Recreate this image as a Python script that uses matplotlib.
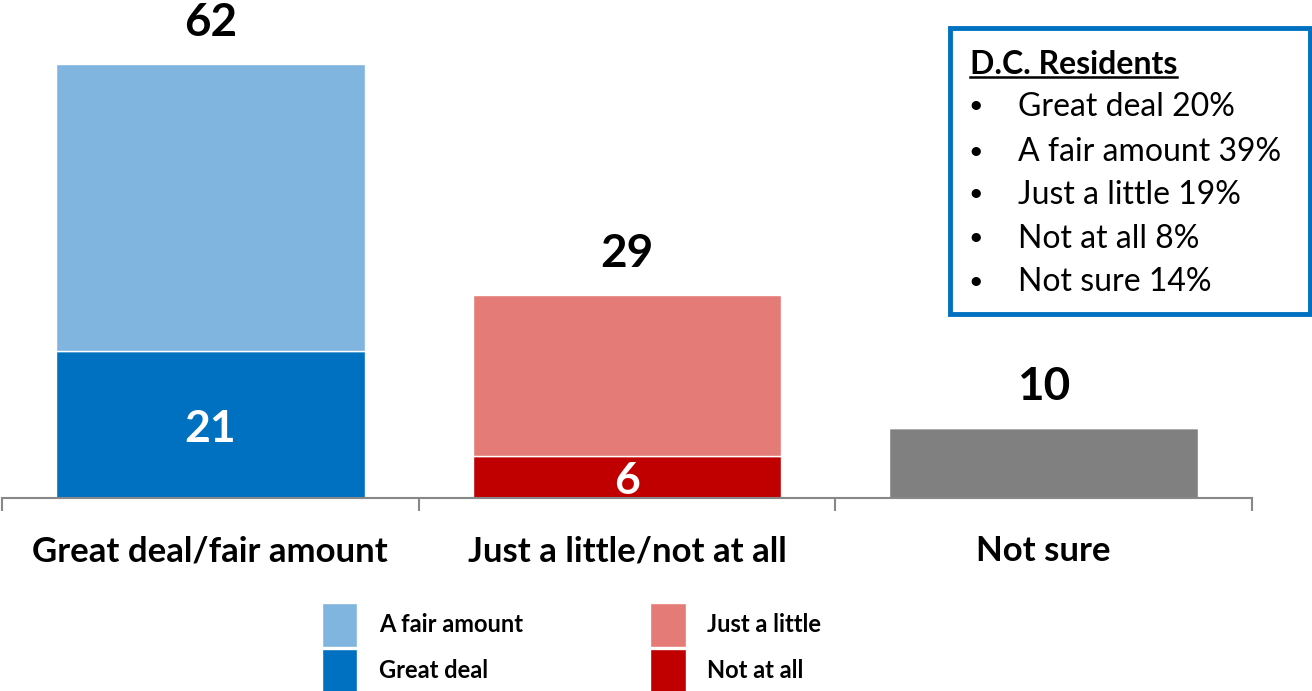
import matplotlib
matplotlib.use("Agg")
from matplotlib import pyplot as plt
from matplotlib.patches import Rectangle, Patch
from matplotlib.lines import Line2D
import numpy as np

plt.rcParams['font.family'] = ['Lato', 'DejaVu Sans']

# -------- data ----------#
categories = ["Great deal/fair amount", "Just a little/not at all", "Not sure"]
bottom_vals = [21, 6, 10]          # Great deal / Not at all / Not sure
top_vals = [41, 23, 0]             # A fair amount / Just a little
totals = [62, 29, 10]
inner_labels = ["21", "6", ""]

bottom_colors = ["#0070C0", "#C00000", "#808080"]
top_colors = ["#7FB5DE", "#E57B77", "#808080"]

legend_labels = ["A fair amount", "Great deal", "Just a little", "Not at all"]
legend_colors = ["#7FB5DE", "#0070C0", "#E57B77", "#C00000"]

box_title = "D.C. Residents"
box_items = ["Great deal 20%", "A fair amount 39%", "Just a little 19%",
             "Not at all 8%", "Not sure 14%"]
# -------- data end ----------#

W, H = 1312, 691
fig = plt.figure(figsize=(W / 100, H / 100), dpi=100)
ax = fig.add_axes([2 / W, 1 - 498 / H, 1250 / W, 498 / H])

x = np.arange(len(categories))
bw = 0.74
ax.bar(x, bottom_vals, bw, color=bottom_colors, edgecolor="white", linewidth=1)
ax.bar(x, top_vals, bw, bottom=bottom_vals, color=top_colors,
       edgecolor="white", linewidth=1)

ax.set_xlim(-0.5, 2.5)
ax.set_ylim(0, 71.1)

for xi, t in zip(x, totals):
    ax.text(xi, t + 5.8, str(t), ha="center", va="center",
            fontsize=33, fontweight="bold", color="black")
for xi, b, lab in zip(x, bottom_vals, inner_labels):
    if lab:
        ax.text(xi, b / 2 - 0.6, lab, ha="center",
                va="center", fontsize=32, fontweight="bold", color="white")

# axis styling
for s in ["top", "right", "left"]:
    ax.spines[s].set_visible(False)
ax.spines["bottom"].set_color("#888888")
ax.spines["bottom"].set_linewidth(1.5)
ax.set_yticks([])
ax.set_xticks([-0.5, 0.5, 1.5, 2.5])
ax.set_xticklabels([])
ax.tick_params(axis="x", length=9, width=1.5, color="#888888", direction="out")
for xi, c in zip(x, categories):
    ax.text(xi, -7.6, c, ha="center", va="center", fontsize=25,
            fontweight="bold", color="black", clip_on=False)

# legend
handles = [Patch(facecolor=c, edgecolor="white", linewidth=1) for c in legend_colors]
leg = fig.legend(handles, legend_labels, ncol=2, loc="lower left",
                 bbox_to_anchor=(322 / W, -1 / H), frameon=False,
                 prop={"size": 17, "weight": "bold"},
                 handlelength=1.5, handleheight=2.43, handletextpad=0.9,
                 labelspacing=0.1, columnspacing=5.4, borderpad=0.0,
                 borderaxespad=0.0)

# D.C. box
fig.patches.append(Rectangle((950 / W, 1 - 314 / H), 360 / W, 286 / H,
                             transform=fig.transFigure, facecolor="white",
                             edgecolor="#0070C0", linewidth=3.5))
title = fig.text(970 / W, 1 - 64 / H, box_title, ha="left", va="center",
                 fontsize=23, fontweight="bold", color="black")
ys = [105, 150, 193, 237, 280]
for yy, item in zip(ys, box_items):
    fig.text(976 / W, 1 - (yy + 1) / H, "\u2022", ha="center", va="center",
             fontsize=18, color="black")
    fig.text(1018 / W, 1 - (yy + 2) / H, item, ha="left", va="center",
             fontsize=23, color="black")

fig.canvas.draw()
bb = title.get_window_extent().transformed(fig.transFigure.inverted())
fig.lines.append(Line2D([bb.x0, bb.x1], [bb.y0 + 2 / H, bb.y0 + 2 / H],
                        transform=fig.transFigure, color="black", linewidth=1.8))

fig.savefig("out.png", dpi=100, facecolor="white")
